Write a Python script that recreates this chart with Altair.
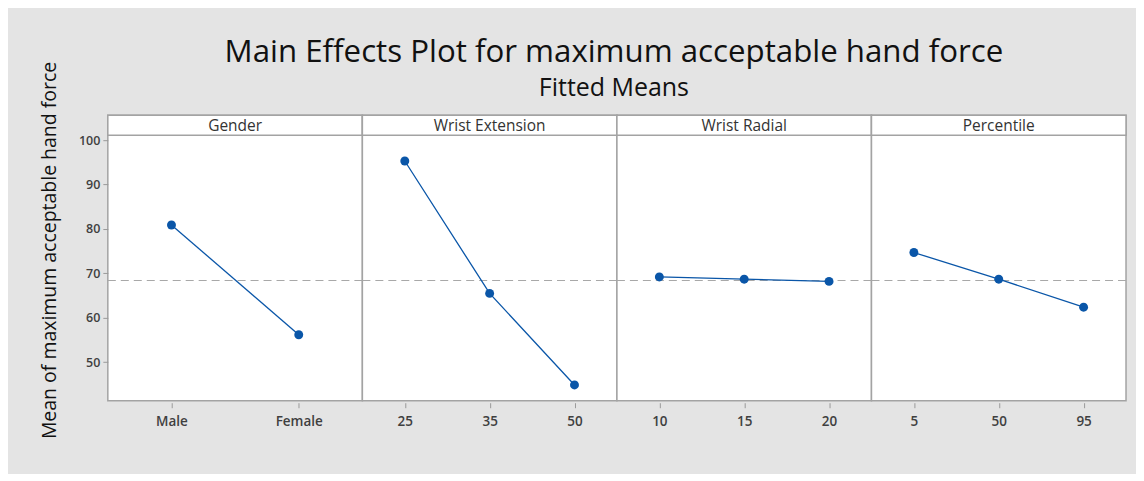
import altair as alt
import pandas as pd

# ---- data ----
title_text = "Main Effects Plot for maximum acceptable hand force"
subtitle_text = "Fitted Means"
factors = ["Gender", "Wrist Extension", "Wrist Radial", "Percentile"]
gender_levels = ["Male", "Female"]
gender_means = [80.9, 56.2]
extension_levels = ["25", "35", "50"]
extension_means = [95.3, 65.5, 44.9]
radial_levels = ["10", "15", "20"]
radial_means = [69.2, 68.7, 68.2]
percentile_levels = ["5", "50", "95"]
percentile_means = [74.7, 68.7, 62.4]
grand_mean = 68.4
y_ticks = [50, 60, 70, 80, 90, 100]

FONT = "Open Sans"
BLUE = "#0a56a8"
BORDER = "#a3a3a3"
PANEL_W = 255
PANEL_H = 286
STRIP_H = 20
Y_DOMAIN = [41.35, 105.6]

levels_all = [gender_levels, extension_levels, radial_levels, percentile_levels]
means_all = [gender_means, extension_means, radial_means, percentile_means]


def panel(idx, name, levels, means):
    df = pd.DataFrame({"level": levels, "mean": means})
    if idx == 0:
        yaxis = alt.Axis(
            title="Mean of maximum acceptable hand force",
            values=y_ticks,
            grid=False,
            domain=False,
            tickSize=5,
            tickColor="#9a9a9a",
            labelColor="#3f3f3f",
            labelFontSize=12.5,
            labelFont=FONT,
            labelFontWeight=600,
            labelPadding=3,
            titleFont=FONT,
            titleFontSize=19.5,
            titleFontWeight="normal",
            titleColor="#111111",
            titlePadding=19,
            titleY=PANEL_H / 2 - 8,
        )
    else:
        yaxis = None
    x = alt.X(
        "level:N",
        sort=levels,
        scale=alt.Scale(type="point", padding=0.5),
        axis=alt.Axis(
            title=None,
            labelAngle=0,
            domain=False,
            grid=False,
            tickSize=5,
            tickColor="#9a9a9a",
            offset=2,
            labelColor="#3f3f3f",
            labelFontSize=13.5,
            labelFont=FONT,
            labelFontWeight=600,
            labelPadding=7,
        ),
    )
    yscale = alt.Scale(domain=Y_DOMAIN, nice=False, zero=False)
    y = alt.Y("mean:Q", scale=yscale, axis=yaxis)
    base = alt.Chart(df).encode(x=x, y=y)
    line = base.mark_line(color=BLUE, strokeWidth=1.3)
    pts = base.mark_circle(color=BLUE, size=80, opacity=1)
    mdf = pd.DataFrame({"mean": [grand_mean]})
    mean_rule = alt.Chart(mdf).mark_rule(
        color="#a8a8a8", strokeDash=[8, 5], strokeWidth=1.2
    ).encode(y=alt.Y("mean:Q", scale=yscale, axis=yaxis))
    sdf = pd.DataFrame({"f": [name]})
    strip = alt.Chart(sdf).mark_rect(
        fill="white", stroke=BORDER, strokeWidth=1.5
    ).encode(
        x=alt.value(0), x2=alt.value(PANEL_W), y=alt.value(0), y2=alt.value(STRIP_H)
    )
    strip_text = alt.Chart(sdf).mark_text(
        font=FONT, fontSize=15.5, color="#333333"
    ).encode(text="f:N", x=alt.value(PANEL_W / 2), y=alt.value(STRIP_H / 2 + 0.5))
    layers = [mean_rule, line, pts, strip, strip_text]
    if idx == 0:
        tdf = pd.DataFrame({"t": [title_text]})
        sub_df = pd.DataFrame({"t": [subtitle_text]})
        center = PANEL_W * len(factors) / 2 - 3
        title_mark = alt.Chart(tdf).mark_text(
            font=FONT, fontSize=31.3, fontWeight=500, color="#111111",
            baseline="alphabetic", align="center",
        ).encode(text="t:N", x=alt.value(center), y=alt.value(-53.5))
        sub_mark = alt.Chart(sub_df).mark_text(
            font=FONT, fontSize=25, color="#111111",
            baseline="alphabetic", align="center",
        ).encode(text="t:N", x=alt.value(center), y=alt.value(-19.5))
        layers += [title_mark, sub_mark]
    return alt.layer(*layers).properties(width=PANEL_W, height=PANEL_H)


panels = [panel(i, f, l, m) for i, (f, l, m) in enumerate(zip(factors, levels_all, means_all))]

chart = (
    alt.hconcat(*panels, spacing=0, bounds="flush")
    .properties(
        background="#e4e4e4",
        padding={"left": 30, "right": 8, "top": 27, "bottom": 34},
    )
    .configure_view(stroke=BORDER, strokeWidth=1.5, fill="white")
)

chart.save("out.html", embed_options={"renderer": "svg", "actions": False})
